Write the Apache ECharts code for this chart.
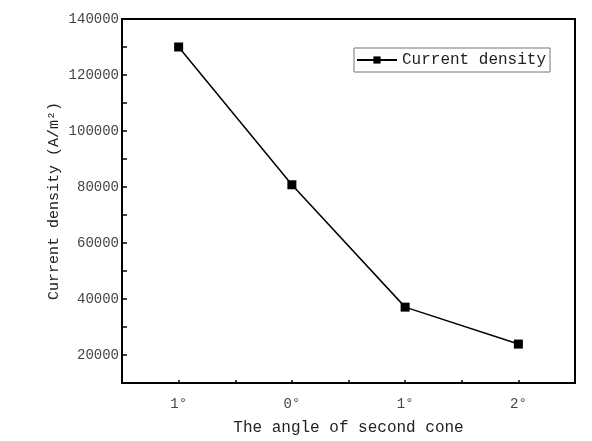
<!DOCTYPE html>
<html>
<head>
<meta charset="utf-8">
<script src="https://cdn.jsdelivr.net/npm/echarts@6/dist/echarts.min.js"></script>
<style>
  html, body { margin: 0; padding: 0; background: #fff; }
  #chart { width: 592px; height: 441px; }
</style>
</head>
<body>
<div id="chart"></div>
<script>
const categories = ['1°', '0°', '1°', '2°'];
const currentDensity = [130000, 80800, 37100, 23900];
const yTicks = [20000, 40000, 60000, 80000, 100000, 120000, 140000];

const font = '"Liberation Mono", "DejaVu Sans Mono", monospace';
const chartDom = document.getElementById('chart');
const myChart = echarts.init(chartDom);

const option = {
  backgroundColor: '#fff',
  animation: false,
  grid: {
    left: 122, right: 17, top: 19, bottom: 57,
    show: true, borderColor: '#000', borderWidth: 2
  },
  legend: {
    left: 354, top: 48,
    orient: 'vertical',
    borderColor: '#777', borderWidth: 1,
    padding: [4, 4, 4, 2],
    itemWidth: 40, itemHeight: 9,
    textStyle: { fontFamily: font, fontSize: 16, color: '#222' },
    data: ['Current density']
  },
  xAxis: [{
    type: 'value',
    min: 0.5, max: 4.5, interval: 0.5,
    axisLine: { lineStyle: { color: '#000', width: 2 } },
    axisTick: {
      inside: true, length: 3,
      lineStyle: { color: '#000', width: 1.5 }
    },
    splitLine: { show: false },
    axisLabel: {
      margin: 14,
      fontFamily: font, fontSize: 14, color: '#444',
      showMinLabel: false, showMaxLabel: false,
      formatter: v => Number.isInteger(v) ? categories[v - 1] : ''
    },
    name: 'The angle of second cone',
    nameLocation: 'middle', nameGap: 37,
    nameMoveOverlap: false,
    nameTextStyle: { fontFamily: font, fontSize: 16, color: '#222' }
  }, {
    // longer ticks under each category
    type: 'category',
    position: 'bottom',
    data: categories,
    boundaryGap: true,
    axisLine: { show: false },
    axisTick: {
      inside: true, length: 6, alignWithLabel: true,
      lineStyle: { color: '#000', width: 1.5 }
    },
    axisLabel: { show: false },
    splitLine: { show: false }
  }],
  yAxis: {
    type: 'value',
    min: 10000, max: 140000, interval: 10000,
    axisLine: { lineStyle: { color: '#000', width: 2 } },
    axisTick: {
      inside: true, length: 5,
      lineStyle: { color: '#000', width: 1.5 }
    },
    splitLine: { show: false },
    axisLabel: {
      margin: 3,
      fontFamily: font, fontSize: 14, color: '#444',
      formatter: v => yTicks.includes(v) ? String(v) : ''
    },
    name: 'Current density (A/m²)',
    nameLocation: 'middle', nameGap: 60,
    nameMoveOverlap: false,
    nameTextStyle: { fontFamily: font, fontSize: 15, color: '#222' }
  },
  series: [{
    name: 'Current density',
    type: 'line',
    xAxisIndex: 0,
    data: currentDensity.map((v, i) => [i + 1, v]),
    symbol: 'rect',
    symbolSize: 9,
    itemStyle: { color: '#000' },
    lineStyle: { color: '#000', width: 1.5 }
  }]
};

myChart.setOption(option);
</script>
</body>
</html>
